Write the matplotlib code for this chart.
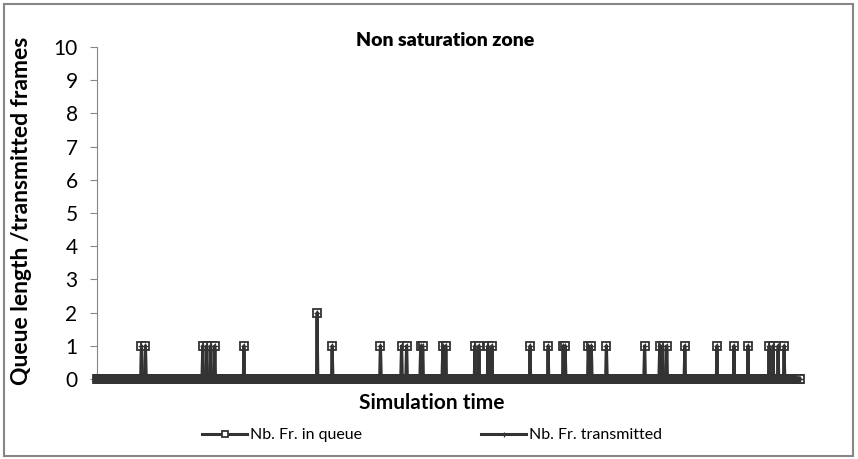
import matplotlib.pyplot as plt
import matplotlib.patches as patches
import numpy as np

# simulation steps (categories on the x axis)
n_steps = 1400

# steps where the queue is not empty, and the value there
event_steps = [88, 96, 210, 218, 226, 234, 292, 438, 468, 564, 606, 616,
               644, 648, 688, 694, 752, 760, 778, 786, 862, 898, 928, 932,
               978, 984, 1014, 1090, 1120, 1126, 1134, 1170, 1234, 1268,
               1296, 1338, 1346, 1356, 1368]
event_values = [1, 1, 1, 1, 1, 1, 1, 2, 1, 1, 1, 1,
                1, 1, 1, 1, 1, 1, 1, 1, 1, 1, 1, 1,
                1, 1, 1, 1, 1, 1, 1, 1, 1, 1,
                1, 1, 1, 1, 1]

y_ticks = [0, 1, 2, 3, 4, 5, 6, 7, 8, 9, 10]

steps = np.arange(n_steps)
queue = np.zeros(n_steps)
queue[event_steps] = event_values
transmitted = queue.copy()

plt.rcParams['font.family'] = ['Lato', 'DejaVu Sans']
dark = '#333333'
grey = '#868686'

fig = plt.figure(figsize=(8.58, 4.59), dpi=100)
ax = fig.add_axes([97/858, 1-379/459, (800-97)/858, (379-47)/459])

ax.plot(steps, queue, color=dark, lw=2.2, marker='s', ms=6,
        mfc='white', mec=dark, mew=1.3, clip_on=False, zorder=3,
        label='Nb. Fr. in queue')
ax.plot(steps, transmitted, color=dark, lw=2.2, marker='+', ms=4.5,
        mec=dark, mew=0.9, clip_on=False, zorder=4,
        label='Nb. Fr. transmitted')

ax.set_xlim(-0.5, n_steps - 0.5)
ax.set_ylim(0, 10)
ax.set_yticks(y_ticks)
ax.set_xticks([])
for s in ['top', 'right', 'bottom']:
    ax.spines[s].set_visible(False)
ax.spines['left'].set_color(grey)
ax.tick_params(axis='y', colors=grey, length=5, pad=9, labelsize=15,
               labelcolor='black')

fig.text(445/858, 1-40/459, 'Non saturation zone', fontsize=14,
         fontweight='heavy', ha='center', va='center')
fig.text(432/858, 1-403/459, 'Simulation time', fontsize=15, fontweight='bold',
         ha='center', va='center')
fig.text(22/858, 1-211/459, 'Queue length /transmitted frames', fontsize=16.5,
         fontweight='bold', rotation=90, ha='center', va='center')

fig.legend(loc='center', bbox_to_anchor=(432/858, 1-435/459), ncol=2,
           frameon=False, fontsize=11.5, handlelength=2.8, columnspacing=7.5,
           handletextpad=0.15, markerscale=0.8)

fig.patches.append(patches.Rectangle((4/858, 3/459), 849/858, 452/459,
                                     transform=fig.transFigure, fill=False,
                                     edgecolor=grey, lw=1.5))

fig.savefig('out.png', dpi=100)
